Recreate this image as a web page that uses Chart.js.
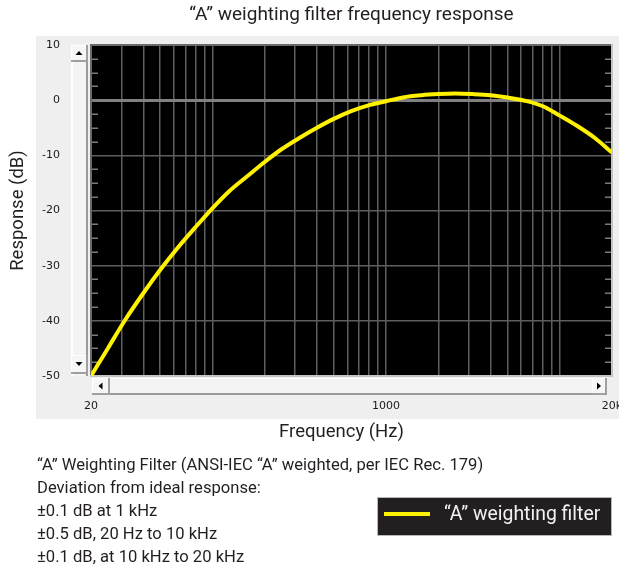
<!DOCTYPE html>
<html>
<head>
<meta charset="utf-8">
<title>A weighting filter frequency response</title>
<script src="https://cdn.jsdelivr.net/npm/chart.js@4.4.1/dist/chart.umd.min.js"></script>
<style>
  body { margin: 0; background: #fff; }
  #wrap { position: relative; width: 619px; height: 569px; overflow: hidden; }
  #notes { position: absolute; left: 37px; top: 453px; font-family: Roboto, "Liberation Sans", sans-serif; font-size: 16.6px; line-height: 23px; color: #231f20; white-space: nowrap; }
  #legend { position: absolute; left: 377px; top: 497px; width: 233px; height: 37px; background: #231f20; border: 1px solid #b8b8b8; }
  #legend .swatch { position: absolute; left: 6px; top: 14px; width: 46px; height: 4px; }
  #legend .txt { position: absolute; left: 66px; top: 3px; font-family: Roboto, sans-serif; font-size: 19.4px; line-height: 26px; color: #f2f2f2; white-space: nowrap; }
</style>
</head>
<body>
<div id="wrap">
  <canvas id="aweight" width="619" height="569"></canvas>
  <div id="notes"></div>
  <div id="legend"></div>
</div>
<script>
// values (Hz / dB)
var freqs = [20, 25, 31.5, 40, 50, 63, 80, 100, 125, 160, 200, 250, 315, 400, 500, 630, 800, 1000,
  1250, 1600, 2000, 2500, 3150, 4000, 5000, 6300, 8000, 10000, 12500, 16000, 20000];
var responseDb = [-50.0, -45.0, -39.8, -35.0, -30.8, -26.8, -23.0, -19.6, -16.5, -13.7, -11.2, -8.9, -6.9, -5.0, -3.4, -2.0, -0.9, -0.2,
  0.5, 0.9, 1.1, 1.2, 1.1, 0.9, 0.5, -0.1, -1.1, -2.8, -4.6, -6.9, -9.5];

var gridFreqs = [20, 30, 40, 50, 60, 70, 80, 90, 100, 200, 300, 400, 500, 600, 700, 800, 900,
  1000, 2000, 3000, 4000, 5000, 6000, 7000, 8000, 9000, 10000, 20000];
var xLabelValues = [20, 1000, 20000];
var xLabelTexts = ["20", "1000", "20k"];

var yMin = -50, yMax = 10, yStep = 10, yMinorStep = 2.5;

var seriesName = "\u201CA\u201D weighting filter";
var chartTitle = "\u201CA\u201D weighting filter frequency response";
var xAxisTitle = "Frequency (Hz)";
var yAxisTitle = "Response (dB)";
var noteLines = [
  "\u201CA\u201D Weighting Filter (ANSI-IEC \u201CA\u201D weighted, per IEC Rec. 179)",
  "Deviation from ideal response:",
  "\u00B10.1 dB at 1 kHz",
  "\u00B10.5 dB, 20 Hz to 10 kHz",
  "\u00B10.1 dB, at 10 kHz to 20 kHz"
];

var points = freqs.map(function (f, i) { return { x: f, y: responseDb[i] }; });

function drawButton(ctx, x, y, w, h, dir) {
  ctx.fillStyle = "#f6f6f6";
  ctx.fillRect(x, y, w, h);
  ctx.fillStyle = "#ffffff";
  ctx.fillRect(x, y, w, 1);
  ctx.fillRect(x, y, 1, h);
  ctx.fillStyle = "#a0a0a0";
  ctx.fillRect(x, y + h - 2, w, 2);
  ctx.fillRect(x + w - 2, y, 2, h);
  var cx = x + w / 2 - 0.5, cy = y + h / 2 - 0.5;
  ctx.fillStyle = "#000";
  ctx.beginPath();
  if (dir == "up") { ctx.moveTo(cx - 3.5, cy + 2); ctx.lineTo(cx + 3.5, cy + 2); ctx.lineTo(cx, cy - 2); }
  if (dir == "down") { ctx.moveTo(cx - 3.5, cy - 2); ctx.lineTo(cx + 3.5, cy - 2); ctx.lineTo(cx, cy + 2); }
  if (dir == "left") { ctx.moveTo(cx + 2, cy - 3.5); ctx.lineTo(cx + 2, cy + 3.5); ctx.lineTo(cx - 2, cy); }
  if (dir == "right") { ctx.moveTo(cx - 2, cy - 3.5); ctx.lineTo(cx - 2, cy + 3.5); ctx.lineTo(cx + 2, cy); }
  ctx.closePath();
  ctx.fill();
}

var panelPlugin = {
  id: "panel",
  beforeDraw: function (chart) {
    var ctx = chart.ctx, a = chart.chartArea;
    ctx.save();
    ctx.fillStyle = "#fff";
    ctx.fillRect(0, 0, chart.width, chart.height);
    // grey window behind the plot
    ctx.fillStyle = "#efefef";
    ctx.fillRect(a.left - 55, a.top - 9, chart.width - (a.left - 55), a.bottom + 43 - (a.top - 9));
    ctx.fillStyle = "#000";
    ctx.fillRect(a.left, a.top, a.right - a.left, a.bottom - a.top);
    ctx.restore();
  },
  beforeDatasetsDraw: function (chart) {
    var ctx = chart.ctx, a = chart.chartArea, ys = chart.scales.y;
    ctx.save();
    // minor ticks on both edges
    ctx.strokeStyle = "#7a7a7a";
    ctx.lineWidth = 1.5;
    for (var v = yMin; v <= yMax; v += yMinorStep) {
      if (v % yStep === 0) continue;
      var py = Math.round(ys.getPixelForValue(v)) + 0.25;
      ctx.beginPath();
      ctx.moveTo(a.left, py); ctx.lineTo(a.left + 7, py);
      ctx.moveTo(a.right - 7, py); ctx.lineTo(a.right, py);
      ctx.stroke();
    }
    // frame
    ctx.fillStyle = "#6a6a6a";
    ctx.fillRect(a.left - 1, a.top - 1, a.right - a.left + 1, 2);
    ctx.fillRect(a.left - 1, a.top - 1, 2, a.bottom - a.top + 1);
    ctx.fillStyle = "#c4c4c4";
    ctx.fillRect(a.right - 1, a.top - 1, 2, a.bottom - a.top + 2);
    ctx.fillRect(a.left - 1, a.bottom - 1, a.right - a.left + 2, 2);

    // vertical scrollbar
    var sx = a.left - 20;
    ctx.fillStyle = "#f4f4f4";
    ctx.fillRect(sx, a.top, 17, a.bottom - a.top);
    ctx.fillStyle = "#ffffff";
    ctx.fillRect(sx, a.top, 2, a.bottom - a.top);
    ctx.fillStyle = "#9a9a9a";
    ctx.fillRect(sx + 15, a.top, 2, a.bottom - a.top);
    drawButton(ctx, sx, a.top, 17, 17, "up");
    drawButton(ctx, sx, a.bottom - 21, 17, 19, "down");

    // horizontal scrollbar
    var sy = a.bottom + 2;
    ctx.fillStyle = "#f4f4f4";
    ctx.fillRect(a.left + 1, sy, a.right - 5 - a.left - 1, 17);
    ctx.fillStyle = "#ffffff";
    ctx.fillRect(a.left + 1, sy, a.right - 5 - a.left - 1, 1);
    ctx.fillStyle = "#9a9a9a";
    ctx.fillRect(a.left + 1, sy + 15, a.right - 5 - a.left - 1, 2);
    drawButton(ctx, a.left + 1, sy, 18, 17, "left");
    drawButton(ctx, a.right - 20, sy, 15, 17, "right");
    ctx.restore();
  },
  afterDraw: function (chart) {
    // x axis title sits a little left of the plot centre in the original
    var ctx = chart.ctx, a = chart.chartArea;
    ctx.save();
    ctx.fillStyle = "#231f20";
    ctx.font = "18.5px Roboto, 'Liberation Sans', sans-serif";
    ctx.textAlign = "center";
    ctx.textBaseline = "middle";
    ctx.fillText(xAxisTitle, (a.left + a.right) / 2 - 10, a.bottom + 56);
    ctx.restore();
  }
};

Chart.defaults.font.family = "Roboto, 'Liberation Sans', sans-serif";
Chart.defaults.color = "#231f20";

var chart = new Chart(document.getElementById("aweight"), {
  type: "line",
  data: {
    datasets: [{
      label: seriesName,
      data: points,
      borderColor: "#fff200",
      borderWidth: 4,
      pointRadius: 0,
      cubicInterpolationMode: "monotone",
      fill: false
    }]
  },
  options: {
    responsive: false,
    animation: false,
    layout: { padding: { left: 0, right: 7, top: 0, bottom: 0 } },
    plugins: {
      legend: { display: false },
      tooltip: { enabled: false },
      title: {
        display: true,
        text: chartTitle,
        fullSize: false,
        color: "#231f20",
        font: { size: 19, weight: "normal", lineHeight: 1.2 },
        padding: { top: 4, bottom: 18.2 }
      }
    },
    scales: {
      x: {
        type: "logarithmic",
        min: 20,
        max: 20000,
        border: { display: false },
        grid: { color: "#5e5e5e", lineWidth: 1.5, drawTicks: false },
        ticks: {
          autoSkip: false,
          maxRotation: 0,
          padding: 24,
          color: "#1a1a1a",
          font: { family: "'DejaVu Sans', sans-serif", size: 11 },
          callback: function (value) {
            var i = xLabelValues.indexOf(value);
            return i >= 0 ? xLabelTexts[i] : "";
          }
        },
        afterBuildTicks: function (scale) {
          scale.ticks = gridFreqs.map(function (f) { return { value: f }; });
        },
        afterFit: function (scale) {
          scale.height = 193;
          scale.paddingLeft = 0; scale.paddingRight = 0;
        }
      },
      y: {
        min: yMin,
        max: yMax,
        border: { display: false },
        grid: {
          drawTicks: false,
          color: function (c) { return c.tick && c.tick.value === 0 ? "#808080" : "#5e5e5e"; },
          lineWidth: function (c) { return c.tick && c.tick.value === 0 ? 3 : 1.5; }
        },
        ticks: {
          stepSize: yStep,
          padding: 31,
          color: "#1a1a1a",
          font: { family: "'DejaVu Sans', sans-serif", size: 11 }
        },
        afterFit: function (scale) {
          scale.width = 91;
          scale.paddingTop = 0; scale.paddingBottom = 0;
        },
        title: {
          display: true,
          text: yAxisTitle,
          color: "#231f20",
          font: { size: 18.5, lineHeight: 1.2 },
          padding: { top: 7.5, bottom: 0 }
        }
      }
    }
  },
  plugins: [panelPlugin]
});

// footnote + legend box
document.getElementById("notes").innerHTML = noteLines.map(function (t) { return "<div>" + t + "</div>"; }).join("");
var legendDiv = document.getElementById("legend");
chart.data.datasets.forEach(function (ds) {
  legendDiv.innerHTML = '<span class="swatch" style="background:' + ds.borderColor + '"></span>' +
    '<span class="txt">' + ds.label + "</span>";
});
</script>
</body>
</html>
